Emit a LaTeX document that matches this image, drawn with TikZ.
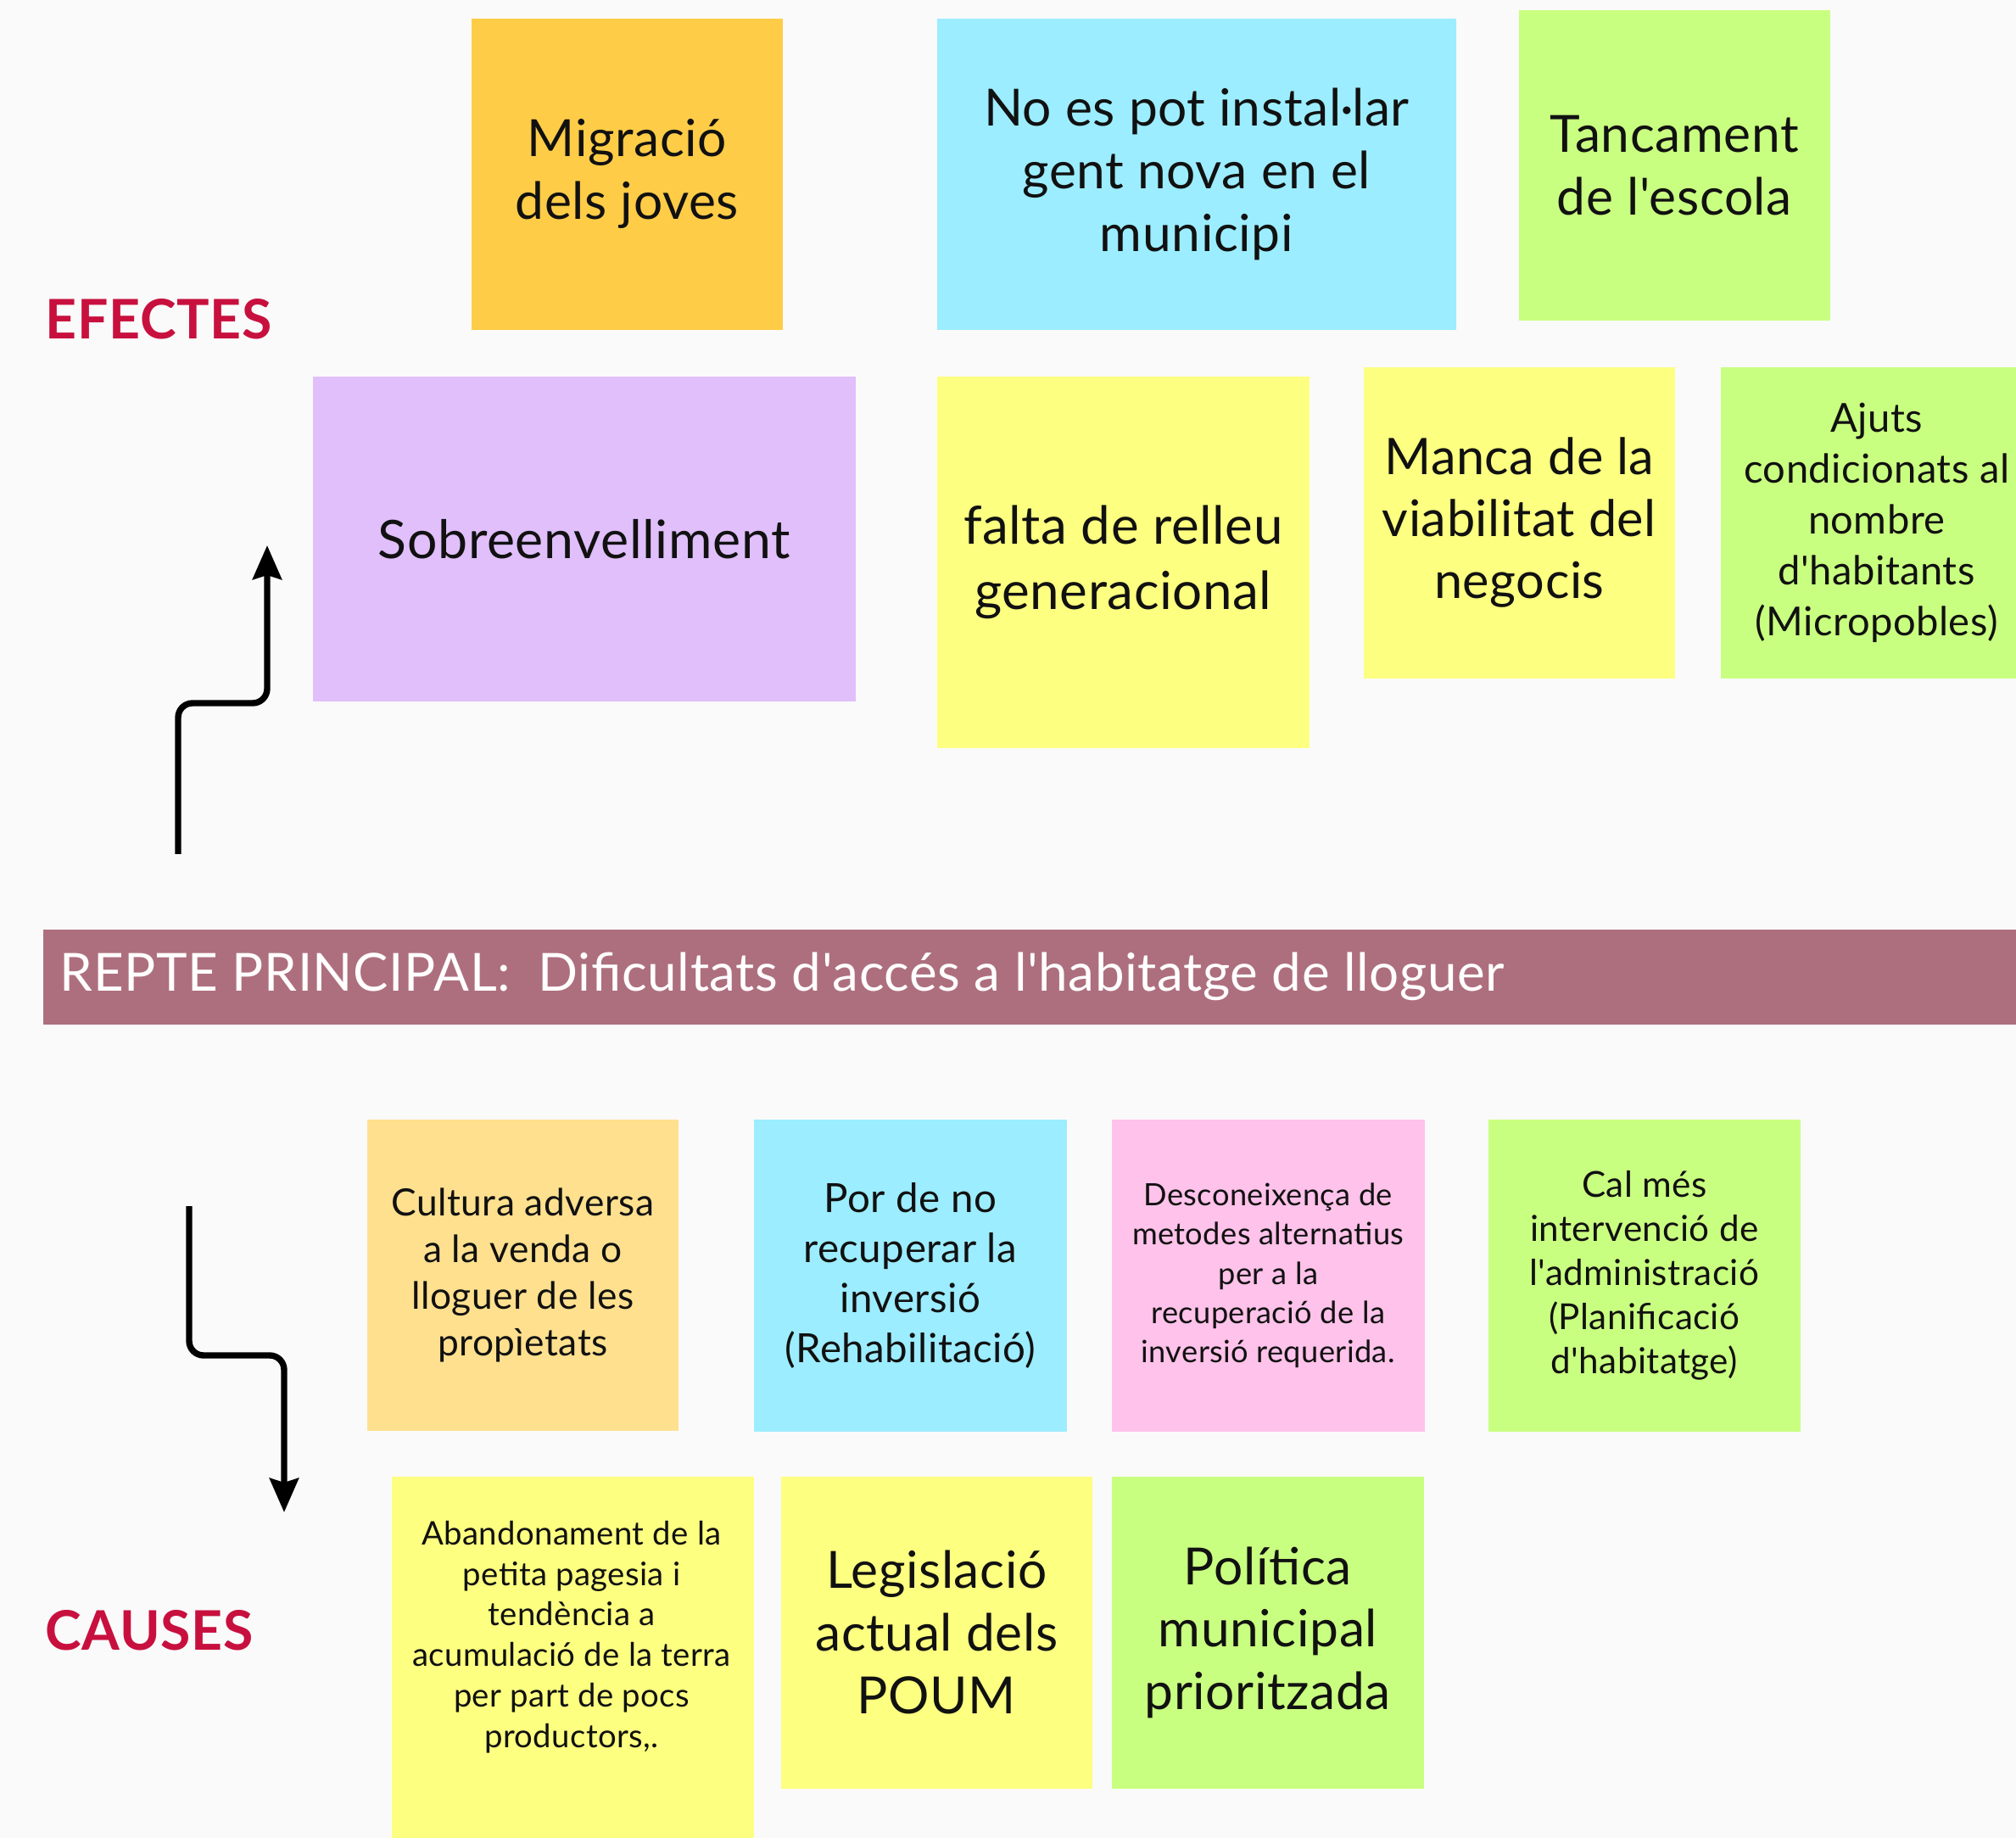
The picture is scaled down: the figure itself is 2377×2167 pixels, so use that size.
\documentclass[tikz,border=0pt]{standalone}
\usepackage{fontspec}
\setmainfont{Lato}[Ligatures=TeXOff, LetterSpace=1]
\usetikzlibrary{arrows.meta}
\definecolor{bg}{HTML}{FAFAFA}
\definecolor{corange}{HTML}{FFCC47}
\definecolor{ccyan}{HTML}{9CEDFF}
\definecolor{cgreen}{HTML}{C9FF80}
\definecolor{clav}{HTML}{E0BFFA}
\definecolor{cyellow}{HTML}{FDFF80}
\definecolor{clorange}{HTML}{FFE08F}
\definecolor{cpink}{HTML}{FFC2EA}
\definecolor{cband}{HTML}{AD6F7E}
\definecolor{ccrimson}{HTML}{C8103E}
\definecolor{ctext}{HTML}{111111}
\tikzset{
  note/.style={draw=none, inner sep=0pt, anchor=north west, align=center, text=ctext},
  big/.style={font={\fontsize{17.2pt}{21pt}\selectfont}},
  sect/.style={anchor=west, inner sep=0pt, text=ccrimson, font={\fontsize{18.3pt}{20pt}\selectfont\bfseries}},
  conn/.style={line width=2.1pt, rounded corners=0.17cm, -{Stealth[length=0.4cm, width=0.34cm, inset=0.05cm]}}
}
\begin{document}
\begin{tikzpicture}[x=0.01cm, y=-0.01cm]
\fill[bg] (0,0) rectangle (2377,2167);
\useasboundingbox (0,0) rectangle (2377,2167);
\begin{scope}
\clip (0,0) rectangle (2377,2167);
% EFECTES row 1
\node[note, big, fill=corange, minimum width=3.67cm, minimum height=3.67cm] (mig) at (555,21) {Migració\\dels joves};
\node[note, big, fill=ccyan, minimum width=6.12cm, minimum height=3.67cm] (nopot) at (1104,21) {No es pot instal·lar\\gent nova en el\\municipi};
\node[note, big, fill=cgreen, minimum width=3.67cm, minimum height=3.66cm] (tanc) at (1790,11) {Tancament\\de l'escola};
% EFECTES row 2
\node[note, fill=clav, minimum width=6.40cm, minimum height=3.83cm, font={\fontsize{17.8pt}{21pt}\selectfont}] (sobre) at (368,443) {Sobreenvelliment};
\node[note, fill=cyellow, minimum width=4.39cm, minimum height=4.38cm, font={\fontsize{17.6pt}{22pt}\selectfont}] (falta) at (1104,443) {falta de relleu\\generacional};
\node[note, fill=cyellow, minimum width=3.67cm, minimum height=3.67cm, font={\fontsize{16.9pt}{20.8pt}\selectfont}] (manca) at (1607,432) {Manca de la\\viabilitat del\\negocis};
\node[note, fill=cgreen, minimum width=3.68cm, minimum height=3.67cm, font={\fontsize{13.4pt}{17pt}\selectfont}] (ajuts) at (2028,432) {Ajuts\\condicionats al\\nombre\\d'habitants\\(Micropobles)};
% labels
\node[sect] (efectes) at (53,376) {EFECTES};
\node[sect] (causes) at (53,1922) {CAUSES};
% banner
\node[note, fill=cband, minimum width=23.40cm, minimum height=1.12cm] (repte) at (50,1095) {};
\node[anchor=west, inner sep=0pt, text=white, font={\fontsize{17.6pt}{20pt}\selectfont}] (reptetxt) at (70,1151) {REPTE PRINCIPAL:\ \ Dificultats d'accés a l'habitatge de lloguer};
% CAUSES row 1
\node[note, fill=clorange, minimum width=3.67cm, minimum height=3.67cm, font={\fontsize{12.6pt}{15.6pt}\selectfont}] (cult) at (432,1319) {Cultura adversa\\a la venda o\\lloguer de les\\propìetats};
\node[note, fill=ccyan, minimum width=3.69cm, minimum height=3.68cm, font={\fontsize{13.5pt}{16.8pt}\selectfont}] (por) at (888,1319) {Por de no\\recuperar la\\inversió\\(Rehabilitació)};
\node[note, fill=cpink, minimum width=3.69cm, minimum height=3.68cm, font={\fontsize{10.3pt}{13.1pt}\selectfont}] (desc) at (1310,1319) {Desconeixença de\\metodes alternatius\\per a la\\recuperació de la\\inversió requerida.};
\node[note, fill=cgreen, minimum width=3.68cm, minimum height=3.68cm, font={\fontsize{12pt}{14.8pt}\selectfont}] (cal) at (1754,1319) {Cal més\\intervenció de\\l'administració\\(Planificació\\d'habitatge)};
% CAUSES row 2
\node[note, fill=cyellow, minimum width=4.27cm, minimum height=4.40cm] (aband) at (461,1740) {};
\node[align=center, inner sep=0pt, text=ctext, font={\fontsize{10.9pt}{13.6pt}\selectfont}] (abandtxt) at (674,1930) {Abandonament de la\\petita pagesia i\\tendència a\\acumulació de la terra\\per part de pocs\\productors,.};
\node[note, big, fill=cyellow, minimum width=3.67cm, minimum height=3.68cm] (legis) at (920,1740) {Legislació\\actual dels\\POUM};
\node[note, big, fill=cgreen, minimum width=3.68cm, minimum height=3.68cm] (polit) at (1310,1740) {Política\\municipal\\prioritzada};
\end{scope}
% connectors
\coordinate (upstart) at (210,1007);
\coordinate (upend) at (315,643);
\coordinate (dnstart) at (223,1422);
\coordinate (dnend) at (335,1783);
\draw[conn] (upstart) |- (263,829) -| (upend);
\draw[conn] (dnstart) |- (279,1598) -| (dnend);
\end{tikzpicture}
\end{document}
